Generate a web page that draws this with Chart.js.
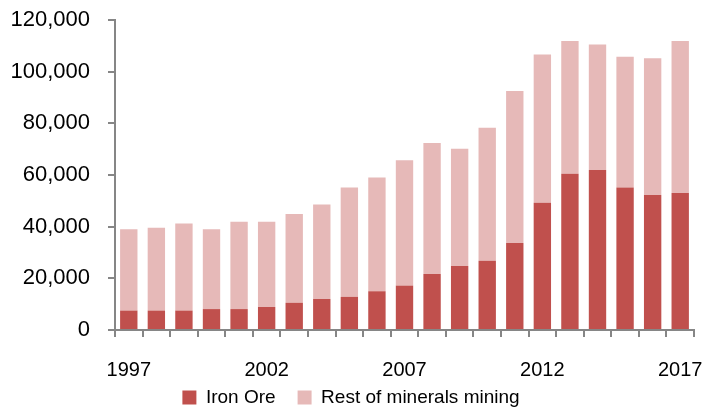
<!DOCTYPE html>
<html>
<head>
<meta charset="utf-8">
<script src="https://cdn.jsdelivr.net/npm/chart.js@4"></script>
<style>
  html, body { margin: 0; padding: 0; background: #fff; }
  #wrap { position: absolute; left: 0; top: 0; width: 706px; height: 410px; }
</style>
</head>
<body>
<div id="wrap"><canvas id="mining"></canvas></div>
<script>
var years = ['1997', '1998', '1999', '2000', '2001', '2002', '2003', '2004', '2005', '2006',
             '2007', '2008', '2009', '2010', '2011', '2012', '2013', '2014', '2015', '2016', '2017'];
// Iron ore value
var ironOre = [7500, 7500, 7500, 8100, 8100, 8900, 10500, 12000, 12800, 15000,
               17200, 21700, 24800, 26800, 33700, 49300, 60500, 61900, 55200, 52300, 53000];
// Rest of minerals mining (stacked on top of iron ore)
var restMining = [31500, 32100, 33700, 30900, 33800, 33000, 34400, 36600, 42400, 44000,
                  48500, 50700, 45400, 51500, 58800, 57300, 51400, 48600, 50600, 52900, 58900];
var yTicks = [0, 20000, 40000, 60000, 80000, 100000, 120000];

var axisColor = '#868686';
var fontFamily = '"Liberation Sans", Arial, sans-serif';

// the legend wants a wide gap between items (labels.padding) but only a thin strip
// at the bottom, so squeeze its box and move it up a little
var legendFix = {
    id: 'legendFix',
    beforeLayout: function (chart) {
        var legend = chart.legend;
        if (legend && !legend.fitPatched) {
            var fit = legend.fit;
            legend.fit = function () {
                fit.call(this);
                this.height = 7;
            };
            legend.fitPatched = true;
        }
    },
    afterLayout: function (chart) {
        chart.legend.top -= 37;
    }
};

function createChart() {
    var ctx = document.getElementById('mining').getContext('2d');
    return new Chart(ctx, {
        type: 'bar',
        data: {
            labels: years,
            datasets: [{
                label: 'Iron Ore',
                data: ironOre,
                backgroundColor: '#C0504D',
                barPercentage: 0.63,
                categoryPercentage: 1
            }, {
                label: 'Rest of minerals mining',
                data: restMining,
                backgroundColor: '#E6B9B8',
                barPercentage: 0.63,
                categoryPercentage: 1
            }]
        },
        plugins: [legendFix],
        options: {
            responsive: true,
            maintainAspectRatio: false,
            animation: false,
            layout: { padding: { left: 8, right: 12, top: 20, bottom: 0 } },
            plugins: {
                tooltip: { enabled: false },
                legend: {
                    position: 'bottom',
                    labels: {
                        boxWidth: 14,
                        boxHeight: 14,
                        padding: 22,
                        color: '#000',
                        font: { family: fontFamily, size: 19 }
                    }
                }
            },
            scales: {
                x: {
                    stacked: true,
                    border: { color: axisColor, width: 2 },
                    grid: {
                        offset: true,
                        drawOnChartArea: false,
                        color: axisColor,
                        lineWidth: 2,
                        tickLength: 7
                    },
                    ticks: {
                        autoSkip: false,
                        maxRotation: 0,
                        padding: 0,
                        color: '#000',
                        // tall line box pushes the year labels down from the axis
                        font: { family: fontFamily, size: 20, lineHeight: 3.3 },
                        callback: function (value, index) {
                            return index % 5 === 0 ? years[index] : '';
                        }
                    }
                },
                y: {
                    stacked: true,
                    min: 0,
                    max: 120000,
                    border: { color: axisColor, width: 2 },
                    grid: {
                        drawOnChartArea: false,
                        color: axisColor,
                        lineWidth: 2,
                        tickLength: 7
                    },
                    afterBuildTicks: function (axis) {
                        axis.ticks = yTicks.map(function (v) { return { value: v }; });
                    },
                    afterFit: function (axis) {
                        axis.width = 107;
                    },
                    ticks: {
                        padding: 18,
                        color: '#000',
                        font: { family: fontFamily, size: 22, lineHeight: 0.1 },
                        callback: function (value) {
                            return value.toLocaleString('en-US');
                        }
                    }
                }
            }
        }
    });
}

createChart();
</script>
</body>
</html>
